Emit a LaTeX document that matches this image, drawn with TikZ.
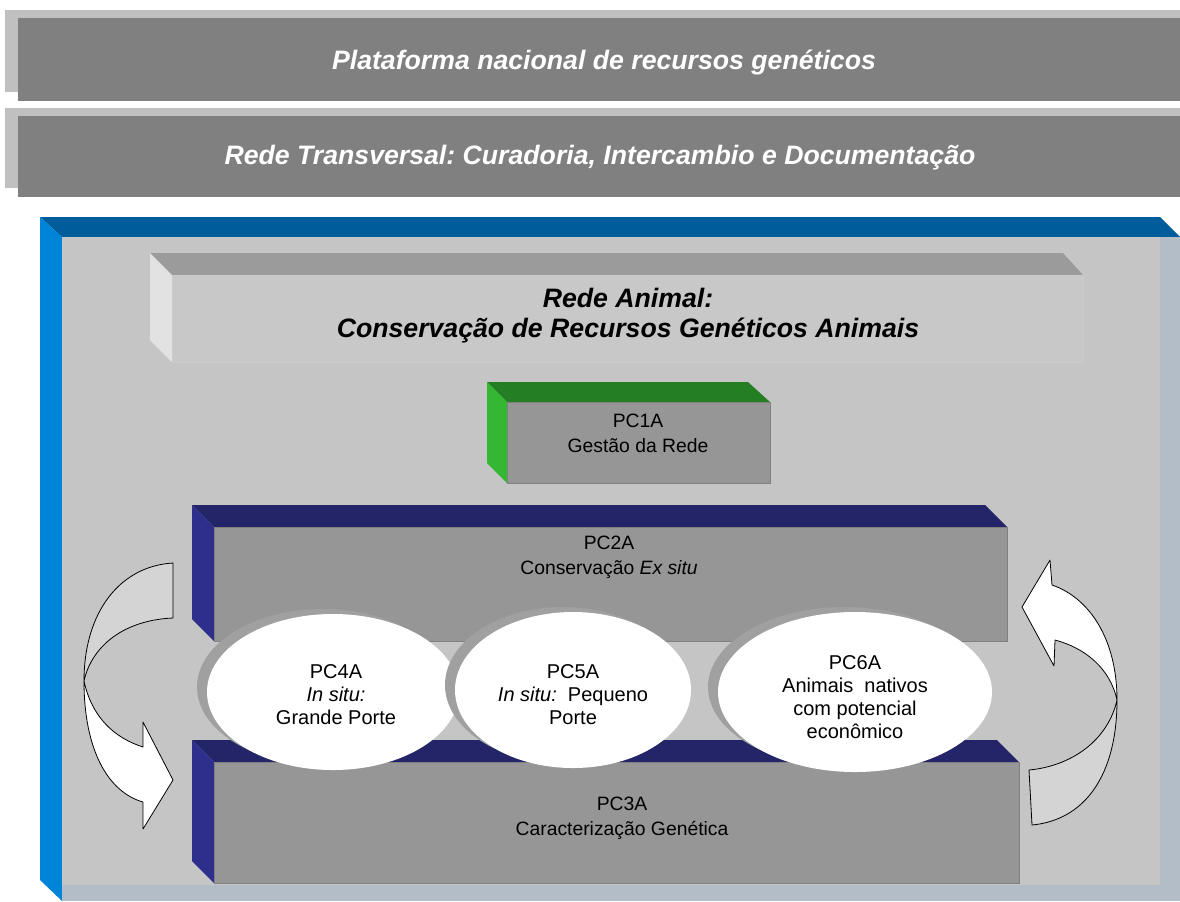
\documentclass[tikz,border=0pt]{standalone}
\usepackage{fontspec}
\setmainfont{Liberation Sans}
\usepackage{tikz}
\usepackage{xcolor}
\frenchspacing

\definecolor{bannerfront}{RGB}{128,128,128}
\definecolor{bannerback}{RGB}{192,192,192}
\definecolor{frametop}{RGB}{0,92,155}
\definecolor{frameleft}{RGB}{0,132,215}
\definecolor{frameside}{RGB}{178,189,199}
\definecolor{framefill}{RGB}{197,197,197}
\definecolor{animaltop}{RGB}{155,155,155}
\definecolor{animalleft}{RGB}{226,226,226}
\definecolor{animalfront}{RGB}{200,200,200}
\definecolor{greentop}{RGB}{36,126,36}
\definecolor{greenleft}{RGB}{52,184,52}
\definecolor{navytop}{RGB}{36,36,104}
\definecolor{navyleft}{RGB}{46,46,140}
\definecolor{pcfront}{RGB}{150,150,150}
\definecolor{pcedge}{RGB}{128,128,128}
\definecolor{shadegray}{RGB}{160,160,160}
\definecolor{ribbonback}{RGB}{212,212,212}

\begin{document}
\begin{tikzpicture}[x=0.75pt,y=0.75pt,yscale=-1,xscale=1,
  bannertext/.style={font=\fontsize{20}{24}\selectfont\bfseries\itshape, text=white, inner sep=0.75pt},
  animaltext/.style={font=\fontsize{20}{22.5}\selectfont\bfseries\itshape, align=center, inner sep=0.75pt},
  boxtext/.style={font=\fontsize{14.5}{18.75}\selectfont, align=center, inner sep=0.75pt},
  elltext/.style={font=\fontsize{15}{17.25}\selectfont, align=center, inner sep=0.75pt},
  boxfront/.style={fill=pcfront, draw=pcedge, line width=0.5pt},
  ribbon/.style={draw=black, line width=0.6pt, line join=round}]
\useasboundingbox (0,0) rectangle (1180,901);
\fill[white] (0,0) rectangle (1180,901);

%Shape: Banner [id:plataforma]
\fill[bannerback] (5,10) rectangle (1180,92);
\fill[bannerfront] (18,18) rectangle (1180,101);
%Shape: Banner [id:transversal]
\fill[bannerback] (5,108) rectangle (1180,188);
\fill[bannerfront] (18,116) rectangle (1180,197);

%Shape: Frame [id:redeanimal]
\fill[frametop] (40,217) -- (1160,217) -- (1180,237) -- (62,237) -- cycle;
\fill[frameleft] (40,217) -- (62,237) -- (62,901) -- (40,880) -- cycle;
\fill[framefill] (62,237) rectangle (1160,885);
\fill[frameside] (1160,237) rectangle (1180,901);
\fill[frameside] (62,885) rectangle (1160,901);

%Shape: Block [id:animal]
\fill[animaltop] (150,253) -- (1063,253) -- (1083,275) -- (172,275) -- cycle;
\fill[animalleft] (150,253) -- (172,275) -- (172,362) -- (150,340) -- cycle;
\filldraw[fill=animalfront, draw=framefill!90!white] (172,275) rectangle (1083,362);

%Shape: Block [id:pc1a]
\fill[greentop] (487,382) -- (748,382) -- (770,402) -- (507,402) -- cycle;
\fill[greenleft] (487,382) -- (507,402) -- (507,483) -- (487,463) -- cycle;
\draw[boxfront] (507,402) rectangle (770,483);

%Shape: Block [id:pc2a]
\fill[navytop] (192,505) -- (985,505) -- (1007,527) -- (214,527) -- cycle;
\fill[navyleft] (192,505) -- (214,527) -- (214,641) -- (192,619) -- cycle;
\draw[boxfront] (214,527) rectangle (1007,641);

%Shape: Block [id:pc3a]
\fill[navytop] (192,740) -- (997,740) -- (1019,762) -- (214,762) -- cycle;
\fill[navyleft] (192,740) -- (214,762) -- (214,883) -- (192,861) -- cycle;
\draw[boxfront] (214,762) rectangle (1019,883);

%Shape: Ellipse [id:pc4a]
\fill[shadegray] (323,687) ellipse [x radius=126, y radius=78];
\fill[white] (333,692) ellipse [x radius=126, y radius=78];
%Shape: Ellipse [id:pc5a]
\fill[shadegray] (563,685) ellipse [x radius=118, y radius=78];
\fill[white] (573,690) ellipse [x radius=118, y radius=78];
%Shape: Ellipse [id:pc6a]
\fill[shadegray] (845,687) ellipse [x radius=137, y radius=80];
\fill[white] (855,692) ellipse [x radius=137, y radius=80];

%Curve Arrow [id:esquerda]
\filldraw[ribbon, fill=ribbonback] (173,563) .. controls (120,566) and (84,612) .. (84,681) .. controls (92,645) and (125,620) .. (173,618) -- cycle;
\filldraw[ribbon, fill=white] (84,681) .. controls (84,750) and (108,792) .. (143,802) -- (143,829) -- (173,780) -- (143,722) -- (143,747) .. controls (115,738) and (92,718) .. (84,681) -- cycle;

%Curve Arrow [id:direita]
\filldraw[ribbon, fill=ribbonback] (1032,825) .. controls (1085,820) and (1117,775) .. (1117,700) .. controls (1108,740) and (1072,766) .. (1029,770) -- cycle;
\filldraw[ribbon, fill=white] (1117,700) .. controls (1117,640) and (1090,598) .. (1052,585) -- (1050,560) -- (1022,607) -- (1054,666) -- (1055,640) .. controls (1085,648) and (1110,668) .. (1117,700) -- cycle;

% Text Node
\node[bannertext] (plataforma) at (604,62) {Plataforma nacional de recursos genéticos};
% Text Node
\node[bannertext] (transversal) at (600,158) {Rede Transversal: Curadoria, Intercambio e Documentação};
% Text Node
\node[animaltext] (animal) at (628,316) {Rede Animal:\\Conservação de Recursos Genéticos Animais};
% Text Node
\node[boxtext] (pc1a) at (638,433) {PC1A\\Gestão da Rede};
% Text Node
\node[boxtext] (pc2a) at (609,557) {PC2A\\Conservação \textit{Ex situ}};
% Text Node
\node[boxtext] (pc3a) at (622,818) {PC3A\\Caracterização Genética};
% Text Node
\node[elltext] (pc4a) at (336,695) {PC4A\\\textit{In situ:}\\Grande Porte};
% Text Node
\node[elltext] (pc5a) at (573,695) {PC5A\\\textit{In situ:}\ \ Pequeno\\Porte};
% Text Node
\node[elltext] (pc6a) at (855,697) {PC6A\\Animais\ \ nativos\\com potencial\\econômico};

\end{tikzpicture}
\end{document}
